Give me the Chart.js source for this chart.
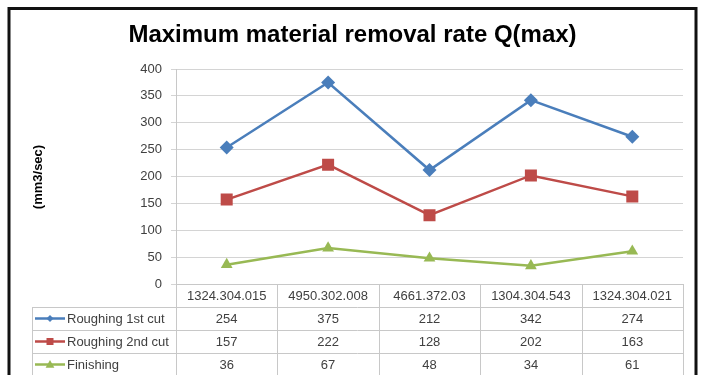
<!DOCTYPE html>
<html lang="en">
<head>
    <meta charset="UTF-8">
    <title>Maximum material removal rate Q(max)</title>
    <script src="https://cdn.jsdelivr.net/npm/chart.js"></script>
    <style>
        body { margin: 0; background: #fff; }
        canvas { display: block; }
    </style>
</head>
<body>
    <canvas id="qmaxChart" width="702" height="375"></canvas>

    <script>
        const categories = ['1324.304.015', '4950.302.008', '4661.372.03', '1304.304.543', '1324.304.021'];
        const roughing1 = [254, 375, 212, 342, 274];
        const roughing2 = [157, 222, 128, 202, 163];
        const finishing = [36, 67, 48, 34, 61];
        const seriesNames = ['Roughing 1st cut', 'Roughing 2nd cut', 'Finishing'];

        const FONT = "'Liberation Sans', Arial, sans-serif";
        const colors = ['#4A7EBB', '#BE4B48', '#98B954'];
        const markers = ['rectRot', 'rect', 'triangle'];
        const markerSize = [7, 8.5, 6.8];

        // draws a small marker for the table keys
        function drawMarker(ctx, style, x, y, r, color) {
            ctx.save();
            ctx.fillStyle = color;
            ctx.beginPath();
            if (style === 'rectRot') {
                ctx.moveTo(x, y - r); ctx.lineTo(x + r, y); ctx.lineTo(x, y + r); ctx.lineTo(x - r, y);
            } else if (style === 'rect') {
                ctx.rect(x - r, y - r, 2 * r, 2 * r);
            } else {
                ctx.moveTo(x, y - r * 1.1); ctx.lineTo(x + r * 1.1, y + r * 0.8); ctx.lineTo(x - r * 1.1, y + r * 0.8);
            }
            ctx.closePath();
            ctx.fill();
            ctx.restore();
        }

        const tablePlugin = {
            id: 'tablePlugin',
            beforeDraw(chart) {
                const ctx = chart.ctx;
                ctx.save();
                ctx.fillStyle = '#fff';
                ctx.fillRect(0, 0, chart.width, chart.height);
                ctx.restore();
            },
            afterDraw(chart) {
                const ctx = chart.ctx;
                const area = chart.chartArea;
                const colW = (area.right - area.left) / categories.length;
                const rowH = 23;
                const top = area.bottom;
                const keyLeft = 32;
                const rows = [roughing1, roughing2, finishing];
                const keySize = [3.5, 3.5, 4];

                ctx.save();
                ctx.strokeStyle = '#C8C8C8';
                ctx.lineWidth = 1;
                ctx.beginPath();
                // header row top (x axis)
                ctx.moveTo(area.left, top + 0.5); ctx.lineTo(area.right, top + 0.5);
                for (let r = 1; r <= 3; r++) {
                    const y = Math.round(top + r * rowH) + 0.5;
                    ctx.moveTo(keyLeft, y); ctx.lineTo(area.right, y);
                }
                for (let c = 0; c <= categories.length; c++) {
                    const x = Math.round(area.left + c * colW) + 0.5;
                    ctx.moveTo(x, top); ctx.lineTo(x, chart.height);
                }
                ctx.moveTo(keyLeft + 0.5, top + rowH); ctx.lineTo(keyLeft + 0.5, chart.height);
                ctx.stroke();

                ctx.font = '13px ' + FONT;
                ctx.fillStyle = '#404040';
                ctx.textBaseline = 'middle';
                ctx.textAlign = 'center';
                categories.forEach((cat, i) => {
                    ctx.fillText(cat, area.left + (i + 0.5) * colW, top + rowH / 2 + 1);
                });
                rows.forEach((vals, r) => {
                    const yc = top + (r + 1.5) * rowH + 1;
                    ctx.textAlign = 'center';
                    vals.forEach((v, i) => ctx.fillText(String(v), area.left + (i + 0.5) * colW, yc));
                    // key
                    ctx.strokeStyle = colors[r];
                    ctx.lineWidth = 2.5;
                    ctx.beginPath();
                    ctx.moveTo(35, yc - 1); ctx.lineTo(65, yc - 1);
                    ctx.stroke();
                    drawMarker(ctx, markers[r], 50, yc - 1, keySize[r], colors[r]);
                    ctx.textAlign = 'left';
                    ctx.fillStyle = '#404040';
                    ctx.fillText(seriesNames[r], 67, yc);
                });

                // y axis title
                ctx.save();
                ctx.translate(38, 177);
                ctx.rotate(-Math.PI / 2);
                ctx.font = 'bold 13px ' + FONT;
                ctx.fillStyle = '#000';
                ctx.textAlign = 'center';
                ctx.fillText('(mm3/sec)', 0, 0);
                ctx.restore();

                // outer frame
                ctx.strokeStyle = '#111';
                ctx.lineWidth = 3;
                ctx.strokeRect(9, 8.5, 687, 400);
                ctx.restore();
            }
        };

        const datasets = [roughing1, roughing2, finishing].map((vals, i) => ({
            label: seriesNames[i],
            data: vals,
            borderColor: colors[i],
            backgroundColor: colors[i],
            borderWidth: 2.5,
            pointStyle: markers[i],
            pointRadius: markerSize[i],
            pointBorderWidth: 0,
            tension: 0
        }));

        new Chart(document.getElementById('qmaxChart').getContext('2d'), {
            type: 'line',
            data: { labels: categories, datasets: datasets },
            options: {
                responsive: false,
                animation: false,
                devicePixelRatio: 1,
                layout: { padding: { left: 22, right: 19, top: 10, bottom: 91 } },
                plugins: {
                    legend: { display: false },
                    tooltip: { enabled: false },
                    title: {
                        display: true,
                        text: 'Maximum material removal rate Q(max)',
                        color: '#000',
                        font: { family: FONT, size: 24, weight: 'bold' },
                        padding: { top: 11, bottom: 19.2 }
                    }
                },
                scales: {
                    x: { display: false, offset: true },
                    y: {
                        min: 0,
                        max: 400,
                        ticks: { stepSize: 50, padding: 9, color: '#404040', font: { family: FONT, size: 13 } },
                        grid: { color: '#D4D4D4', tickLength: 5 },
                        border: { color: '#C8C8C8' },
                        afterFit(scale) { scale.width = 154; }
                    }
                }
            },
            plugins: [tablePlugin]
        });
    </script>
</body>
</html>
